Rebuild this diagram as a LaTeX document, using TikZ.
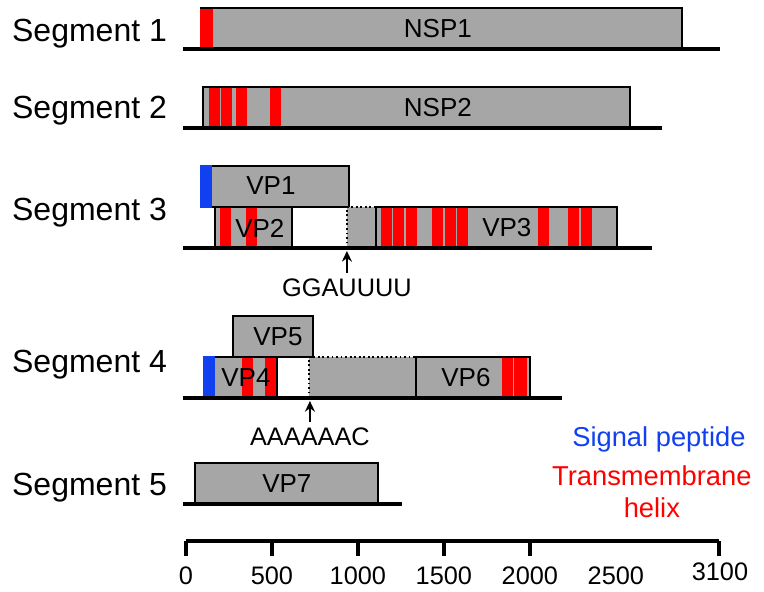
\documentclass[tikz,border=0pt]{standalone}
\usepackage{fontspec}
\setmainfont{Liberation Sans}
\usetikzlibrary{arrows.meta,fit}
\definecolor{genegray}{HTML}{A6A6A6}
\definecolor{tmred}{HTML}{FF0000}
\definecolor{spblue}{HTML}{1040F0}
\tikzset{
  orf/.style={draw=black, fill=genegray, line width=1.4pt, inner sep=0pt, outer sep=0pt},
  gap/.style={fill=genegray, inner sep=0pt, outer sep=0pt},
  tm/.style={fill=tmred},
  sp/.style={fill=spblue},
  rna/.style={line width=3pt},
  dots/.style={dotted, line width=1.4pt},
  pname/.style={font=\fontsize{19.5}{20}\selectfont, inner sep=0pt},
  seg/.style={font=\fontsize{24}{26}\selectfont, anchor=base west, inner sep=0pt},
  num/.style={font=\fontsize{19}{20}\selectfont, anchor=base, inner sep=0pt},
  motif/.style={font=\fontsize{19}{20}\selectfont, inner sep=4pt},
  key/.style={font=\fontsize{20.5}{22}\selectfont, anchor=base, inner sep=0pt},
  cut/.style={-{Stealth[length=8pt,width=7.5pt]}, line width=1.6pt},
}

\begin{document}
\begin{tikzpicture}[x=0.129pt, y=-0.75pt]
  \useasboundingbox (-1081,0) rectangle (3361,592);

  % segment 1
  \node[seg] (s1) at (-1012,42) {Segment 1};
  \node[orf, fit={(87,8) (2884,49)}] (nsp1) {};
  \fill[tm] (81,9) rectangle (157,49);
  \node[pname] (nsp1-l) at (1465,29) {NSP1};
  \draw[rna] (-17,49) -- (3105,49);

  % segment 2
  \node[seg] (s2) at (-1012,119) {Segment 2};
  \node[orf, fit={(99,87) (2581,128)}] (nsp2) {};
  \foreach \a/\b in {134/198,203/267,291/355,488/552}
    \fill[tm] (\a,88) rectangle (\b,128);
  \node[pname] (nsp2-l) at (1465,108) {NSP2};
  \draw[rna] (-17,128) -- (2767,128);

  % segment 3
  \node[seg] (s3) at (-1012,221) {Segment 3};
  \node[orf, fit={(87,166) (948,207)}] (vp1) {};
  \node[orf, fit={(169,207) (616,248)}] (vp2) {};
  \node[gap, fit={(936,207) (1105,248)}] (junc3) {};
  \draw[dots] (junc3.south west) |- (junc3.north east);
  \node[orf, fit={(1105,207) (2506,248)}] (vp3) {};
  \fill[sp] (81,165) rectangle (154,208);
  \foreach \a/\b in {198/262,349/413}
    \fill[tm] (\a,208) rectangle (\b,248);
  \foreach \a/\b in {1134/1198,1203/1267,1279/1343,1430/1494,1506/1570,1576/1640,2047/2110,2221/2285,2297/2360}
    \fill[tm] (\a,208) rectangle (\b,248);
  \node[pname] (vp1-l) at (494,186) {VP1};
  \node[pname] (vp2-l) at (430,228) {VP2};
  \node[pname] (vp3-l) at (1866,228) {VP3};
  \draw[rna] (-17,248) -- (2709,248);
  \coordinate (cut3) at (936,251);
  \node[motif] (m3) at (936,288) {GGAUUUU};
  \draw[cut] (m3) -- (cut3);

  % segment 4
  \node[seg] (s4) at (-1012,373) {Segment 4};
  \node[gap, fit={(716,357) (1337,398)}] (junc4) {};
  \draw[dots] (junc4.south west) |- (junc4.north east);
  \node[orf, fit={(105,357) (529,398)}] (vp4) {};
  \node[orf, fit={(273,316) (738,357)}] (vp5) {};
  \node[orf, fit={(1337,357) (2000,398)}] (vp6) {};
  \fill[sp] (99,356) rectangle (169,399);
  \foreach \a/\b in {326/390,459/523,1837/1901,1907/1983}
    \fill[tm] (\a,358) rectangle (\b,398);
  \node[pname] (vp5-l) at (535,337) {VP5};
  \node[pname] (vp4-l) at (349,378) {VP4};
  \node[pname] (vp6-l) at (1628,378) {VP6};
  \draw[rna] (-17,398) -- (2186,398);
  \coordinate (cut4) at (721,401);
  \node[motif] (m4) at (721,437) {AAAAAAC};
  \draw[cut] (m4) -- (cut4);

  % segment 5
  \node[seg] (s5) at (-1012,496) {Segment 5};
  \node[orf, fit={(52,463) (1116,504)}] (vp7) {};
  \node[pname] (vp7-l) at (587,484) {VP7};
  \draw[rna] (-17,504) -- (1256,504);

  % key
  \node[key, text=spblue] (k1) at (2750,447) {Signal peptide};
  \node[key, text=tmred] (k2) at (2709,486) {Transmembrane};
  \node[key, text=tmred] (k3) at (2709,518) {helix};

  % scale
  \draw[rna] (0,541) -- (3100,541);
  \foreach \v in {0,500,1000,1500,2000,3100}
    \draw[rna] (\v,541) -- (\v,556);
  \foreach \v in {0,500,1000,1500,2000,2500}
    \node[num] (n\v) at (\v,585) {\v};
  \node[num] (n3100) at (3105,581) {3100};
\end{tikzpicture}
\end{document}
